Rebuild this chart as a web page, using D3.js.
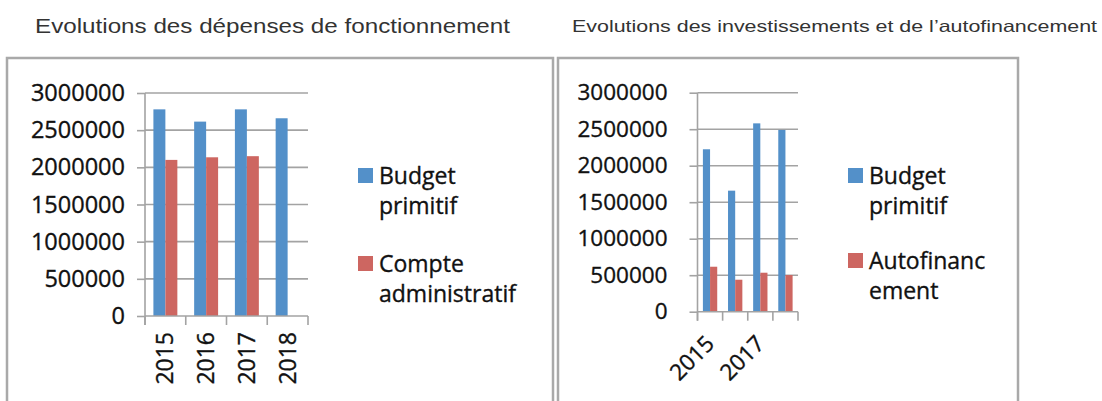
<!DOCTYPE html>
<html><head><meta charset="utf-8">
<script src="https://cdn.jsdelivr.net/npm/d3@7"></script>
<style>
html,body{margin:0;padding:0;background:#fff;}
svg{display:block;}
</style></head>
<body>
<svg id="chart" width="1102" height="401"></svg>
<script>
// ---- data ----
const categories = ["2015", "2016", "2017", "2018"];
const yTicks = [0, 500000, 1000000, 1500000, 2000000, 2500000, 3000000];

const fonctTitle = "Evolutions des dépenses de fonctionnement";
const fonctSeriesNames = ["Budget primitif", "Compte administratif"];
const fonctBudgetPrimitif = [2780000, 2615000, 2780000, 2660000];
const fonctCompteAdministratif = [2100000, 2135000, 2150000, null];
const fonctLegendLines = [["Budget", "primitif"], ["Compte", "administratif"]];

const investTitle = "Evolutions des investissements et de l\u2019autofinancement";
const investSeriesNames = ["Budget primitif", "Autofinancement"];
const investBudgetPrimitif = [2225000, 1658000, 2580000, 2490000];
const investAutofinancement = [616000, 438000, 534000, 502000];
const investLegendLines = [["Budget", "primitif"], ["Autofinanc", "ement"]];
const investXLabels = ["2015", "2017"];

const seriesColors = ["#5390c9", "#cd6661"];

// ---- drawing ----
const svg = d3.select("#chart");

function drawPanel(cfg) {
  const g = svg.append("g");
  // frame
  g.append("rect").attr("x", cfg.frame[0]).attr("y", cfg.frame[1])
    .attr("width", cfg.frame[2]).attr("height", cfg.frame[3])
    .attr("fill", "#fff").attr("stroke", "#a9a9a9").attr("stroke-width", 2.5);
  // title
  g.append("text").attr("x", cfg.titleX).attr("y", cfg.titleY)
    .attr("font-family", "Liberation Sans, Arial, sans-serif")
    .attr("font-size", cfg.titleSize).attr("fill", "#333")
    .attr("textLength", cfg.titleLen).attr("lengthAdjust", "spacingAndGlyphs")
    .text(cfg.title);

  const x = d3.scaleBand().domain(categories).range([cfg.x0, cfg.x1]).padding(0);
  const y = d3.scaleLinear().domain([0, 3000000]).range([cfg.y0, cfg.y1]);
  const bw = x.bandwidth();
  const xs = d3.scaleBand().domain([0, 1]).range([cfg.barPad, bw - cfg.barPad]).padding(0);

  // gridlines
  g.append("g").selectAll("line").data(yTicks.filter(d => d > 0)).join("line")
    .attr("x1", cfg.x0).attr("x2", cfg.x1)
    .attr("y1", d => y(d)).attr("y2", d => y(d))
    .attr("stroke", "#a3a3a3").attr("stroke-width", 1.6);

  // bars
  const series = [cfg.s1, cfg.s2];
  series.forEach((vals, si) => {
    g.append("g").selectAll("rect").data(categories.map((c, i) => ({c, v: vals[i]})).filter(d => d.v != null))
      .join("rect")
      .attr("x", d => x(d.c) + xs(si)).attr("width", xs.bandwidth())
      .attr("y", d => y(d.v)).attr("height", d => y(0) - y(d.v))
      .attr("fill", seriesColors[si]);
  });

  // y axis
  const ya = g.append("g").attr("transform", `translate(${cfg.x0},0)`)
    .call(d3.axisLeft(y).tickValues(yTicks).tickSize(8).tickPadding(cfg.yPad).tickFormat(d3.format("d")));
  ya.select(".domain").remove();
  ya.selectAll(".tick line").attr("stroke", "#a3a3a3").attr("stroke-width", 1.6);
  ya.selectAll(".tick text").attr("font-family", "Open Sans, sans-serif")
    .attr("font-size", cfg.yFont).attr("fill", "#111")
    .attr("stroke", "#111").attr("stroke-width", 0.35);
  g.append("line").attr("x1", cfg.x0).attr("x2", cfg.x0).attr("y1", cfg.y1).attr("y2", cfg.y0 + 9)
    .attr("stroke", "#a3a3a3").attr("stroke-width", 1.6);

  // x axis baseline + ticks at category boundaries
  g.append("line").attr("x1", cfg.x0).attr("x2", cfg.x1).attr("y1", cfg.y0).attr("y2", cfg.y0)
    .attr("stroke", "#a3a3a3").attr("stroke-width", 1.6);
  const bounds = categories.map(c => x(c)).concat([cfg.x1]);
  g.append("g").selectAll("line").data(bounds).join("line")
    .attr("x1", d => d).attr("x2", d => d).attr("y1", cfg.y0).attr("y2", cfg.y0 + 9)
    .attr("stroke", "#a3a3a3").attr("stroke-width", 1.6);

  // x labels
  const xa = g.append("g").attr("transform", `translate(0,${cfg.y0})`)
    .call(d3.axisBottom(x).tickValues(cfg.xLabels).tickSize(0).tickPadding(0));
  xa.select(".domain").remove();
  xa.selectAll(".tick text").attr("font-family", "Open Sans, sans-serif")
    .attr("font-size", cfg.xFont).attr("fill", "#111")
    .attr("stroke", "#111").attr("stroke-width", 0.35)
    .attr("text-anchor", "end").attr("dy", "0.35em")
    .attr("transform", cfg.xRot);

  // legend
  const lg = g.append("g");
  cfg.legend.forEach((lines, i) => {
    const top = cfg.legY[i];
    lg.append("rect").attr("x", cfg.legX).attr("y", top).attr("width", 15).attr("height", 15)
      .attr("fill", seriesColors[i]);
    lines.forEach((t, j) => {
      lg.append("text").attr("x", cfg.legX + 21).attr("y", top + 16 + j * 30)
        .attr("font-family", "Open Sans, sans-serif").attr("font-size", 23).attr("fill", "#111")
        .attr("stroke", "#111").attr("stroke-width", 0.35)
        .text(t);
    });
  });
}

drawPanel({
  frame: [7, 58, 546, 400],
  title: fonctTitle, titleX: 35, titleY: 33, titleSize: 20.5, titleLen: 475,
  x0: 145, x1: 308, y0: 316, y1: 93, barPad: 8.4,
  s1: fonctBudgetPrimitif, s2: fonctCompteAdministratif,
  yFont: 23.5, yPad: 12, xFont: 23, xLabels: categories,
  xRot: "translate(0,16) rotate(-90)",
  legend: fonctLegendLines, legX: 358, legY: [168, 256]
});

drawPanel({
  frame: [558, 58, 460, 400],
  title: investTitle, titleX: 572, titleY: 32, titleSize: 16.5, titleLen: 525,
  x0: 697.5, x1: 798, y0: 311.7, y1: 92.7, barPad: 5.4,
  s1: investBudgetPrimitif, s2: investAutofinancement,
  yFont: 22.5, yPad: 22, xFont: 22.5, xLabels: investXLabels,
  xRot: "translate(0,28) rotate(-45)",
  legend: investLegendLines, legX: 848, legY: [168, 253]
});
</script>
</body></html>
